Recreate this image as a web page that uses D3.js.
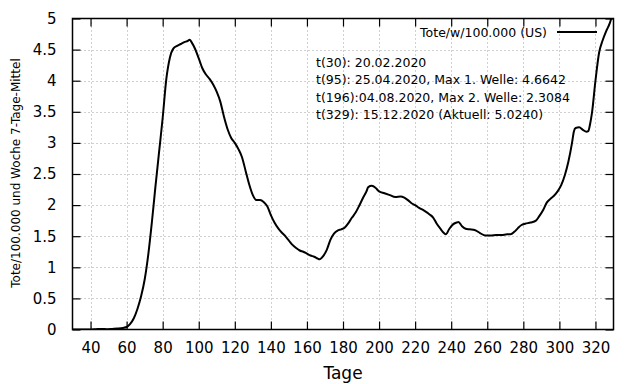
<!DOCTYPE html>
<html>
<head>
<meta charset="utf-8">
<script src="https://cdn.jsdelivr.net/npm/d3@7"></script>
<style>
  body { margin: 0; background: #fff; }
  text { font-family: "DejaVu Sans", sans-serif; fill: #000; }
</style>
</head>
<body>
<div id="chart"></div>
<script>
var tage = [30,35,40,43,46,49,52,55,58,60,62,64,66,68,70,72,74,76,78,80,82,84,86,88,90,92,94,95,96,98,
  100,102,104,106,108,110,112,114,116,118,120,122,124,126,128,130,132,134,136,138,140,142,144,146,148,
  150,152,154,156,158,160,162,164,166,167,169,171,173,175,177,179,181,183,185,187,189,191,193,194,196,
  198,200,203,206,209,212,214,216,218,220,222,225,228,230,232,234,236,237,239,241,243,244,246,248,250,
  253,256,259,262,265,268,271,273,275,277,279,281,284,287,289,291,293,295,297,299,301,303,305,307,308,
  309,311,313,315,316,317,318,320,322,324,326,328,329];
var tote = [0,0,0,0.005,0.01,0.005,0.01,0.015,0.025,0.04,0.09,0.18,0.33,0.53,0.8,1.2,1.72,2.3,2.85,3.4,
  4.02,4.37,4.52,4.56,4.59,4.62,4.64,4.66,4.62,4.51,
  4.36,4.2,4.1,4.03,3.94,3.82,3.66,3.42,3.22,3.08,3.0,2.9,2.77,2.55,2.33,2.16,2.08,2.08,2.05,1.98,1.84,
  1.72,1.63,1.56,1.5,1.43,1.36,1.31,1.27,1.25,1.22,1.19,1.17,1.14,1.13,1.18,1.28,1.44,1.54,1.59,1.61,
  1.64,1.71,1.8,1.88,1.99,2.11,2.22,2.29,2.31,2.28,2.22,2.19,2.16,2.13,2.14,2.12,2.08,2.03,2.0,1.96,
  1.91,1.85,1.8,1.7,1.62,1.55,1.53,1.62,1.69,1.72,1.73,1.66,1.62,1.61,1.6,1.55,1.51,1.51,1.52,1.52,
  1.53,1.53,1.57,1.63,1.68,1.7,1.72,1.75,1.83,1.92,2.04,2.1,2.15,2.22,2.32,2.48,2.7,3.0,3.18,3.24,3.25,
  3.21,3.18,3.19,3.3,3.47,4.0,4.45,4.65,4.8,4.93,5.024];
var xTicks = [40,60,80,100,120,140,160,180,200,220,240,260,280,300,320];
var yTicks = [0,0.5,1,1.5,2,2.5,3,3.5,4,4.5,5];
var notizen = ["t(30): 20.02.2020",
  "t(95): 25.04.2020, Max 1. Welle: 4.6642",
  "t(196):04.08.2020, Max 2. Welle: 2.3084",
  "t(329): 15.12.2020 (Aktuell: 5.0240)"];
var legende = "Tote/w/100.000 (US)";

var W = 640, H = 384;
var m = {left: 72.5, right: 613.5, top: 18.5, bottom: 329.5};

var x = d3.scaleLinear().domain([30, 330]).range([m.left, m.right]);
var y = d3.scaleLinear().domain([0, 5]).range([m.bottom, m.top]);
var fmt = d3.format("~g");

var svg = d3.select("#chart").append("svg")
    .attr("width", W).attr("height", H);

// grid
svg.append("g").selectAll("line.gx")
    .data(xTicks).enter().append("line")
    .attr("x1", function(d) { return Math.round(x(d)) + 0.5; })
    .attr("x2", function(d) { return Math.round(x(d)) + 0.5; })
    .attr("y1", m.top).attr("y2", m.bottom)
    .style("stroke", "#a0a0a0").style("stroke-dasharray", "1,3");
svg.append("g").selectAll("line.gy")
    .data(yTicks.slice(1, -1)).enter().append("line")
    .attr("y1", function(d) { return Math.round(y(d)) + 0.5; })
    .attr("y2", function(d) { return Math.round(y(d)) + 0.5; })
    .attr("x1", m.left).attr("x2", m.right)
    .style("stroke", "#a0a0a0").style("stroke-dasharray", "1,3");

// axes, ticks inward on all four sides
var axB = svg.append("g").attr("transform", "translate(0," + m.bottom + ")")
    .call(d3.axisBottom(x).tickValues(xTicks).tickSizeInner(-8).tickSizeOuter(0).tickPadding(13).tickFormat(fmt));
var axT = svg.append("g").attr("transform", "translate(0," + m.top + ")")
    .call(d3.axisTop(x).tickValues(xTicks).tickSizeInner(-8).tickSizeOuter(0).tickFormat(""));
var axL = svg.append("g").attr("transform", "translate(" + m.left + ",0)")
    .call(d3.axisLeft(y).tickValues(yTicks).tickSizeInner(-8).tickSizeOuter(0).tickPadding(16).tickFormat(fmt));
var axR = svg.append("g").attr("transform", "translate(" + m.right + ",0)")
    .call(d3.axisRight(y).tickValues(yTicks).tickSizeInner(-8).tickSizeOuter(0).tickFormat(""));
[axB, axT, axL, axR].forEach(function(a) {
  a.select(".domain").remove();
  a.selectAll("line").style("stroke", "#000").style("stroke-width", "1.2px");
  a.selectAll("text").style("font-size", "15px").style("font-family", "DejaVu Sans");
});

// data line
svg.append("clipPath").attr("id", "clip").append("rect")
    .attr("x", m.left).attr("y", m.top)
    .attr("width", m.right - m.left).attr("height", m.bottom - m.top);

var pts = tage.map(function(t, i) { return [t, tote[i]]; });
var line = d3.line()
    .x(function(d) { return x(d[0]); })
    .y(function(d) { return y(d[1]); })
    .curve(d3.curveMonotoneX);

svg.append("path").datum(pts)
    .attr("clip-path", "url(#clip)")
    .attr("d", line)
    .style("fill", "none").style("stroke", "#000").style("stroke-width", "2px")
    .style("stroke-linejoin", "round");

// frame
svg.append("rect")
    .attr("x", m.left).attr("y", m.top)
    .attr("width", m.right - m.left).attr("height", m.bottom - m.top)
    .style("fill", "none").style("stroke", "#000").style("stroke-width", "1.5px");

// legend
svg.append("text").attr("x", 547).attr("y", 37)
    .attr("text-anchor", "end").style("font-size", "12.5px").text(legende);
svg.append("line").attr("x1", 557).attr("x2", 597).attr("y1", 32).attr("y2", 32)
    .style("stroke", "#000").style("stroke-width", "2px");

// notes
svg.selectAll("text.notiz").data(notizen).enter().append("text")
    .attr("class", "notiz")
    .attr("x", 316)
    .attr("y", function(d, i) { return 67 + i * 17.3; })
    .style("font-size", "12.5px")
    .text(function(d) { return d; });

// axis titles
svg.append("text").attr("x", 343).attr("y", 379)
    .attr("text-anchor", "middle").style("font-size", "17px").text("Tage");
svg.append("text")
    .attr("transform", "translate(20,173) rotate(-90)")
    .attr("text-anchor", "middle").style("font-size", "12px")
    .text("Tote/100.000 und Woche 7-Tage-Mittel");
</script>
</body>
</html>
